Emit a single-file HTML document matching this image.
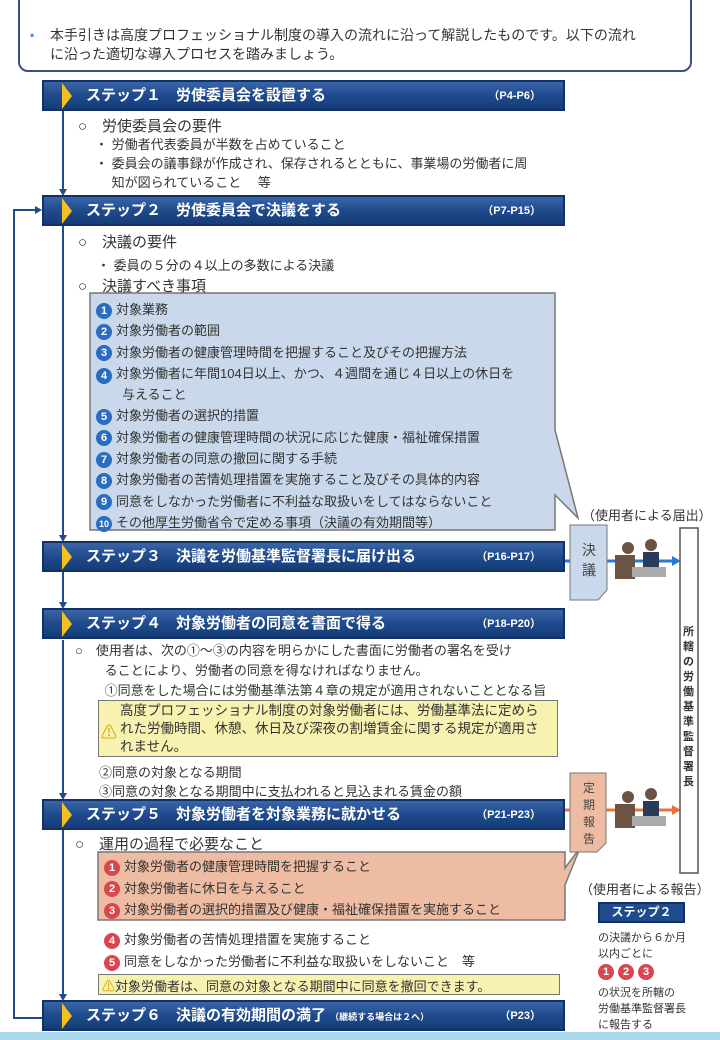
<!DOCTYPE html>
<html><head><meta charset="utf-8"><style>
*{margin:0;padding:0;box-sizing:border-box}
body{width:720px;height:1040px;position:relative;background:#fff;font-family:"Liberation Sans","Noto Sans CJK JP",sans-serif;color:#333;overflow:hidden}
.a{position:absolute;white-space:nowrap}
.bar{position:absolute;left:42px;width:523px;height:31px;background:linear-gradient(#3a65a8,#1f4a8c 50%,#163d78);border:2px solid #123266;color:#fff;font-weight:bold;font-size:15px;line-height:27px;padding-left:42px}
.bar:before{content:"";position:absolute;left:18px;top:1px;border-left:10px solid #f3c020;border-top:13px solid transparent;border-bottom:13px solid transparent}
.bar span{position:absolute;right:22px;font-size:11px;top:1px}
.t15{font-size:15px}.t12{font-size:13px}
.num{display:inline-block;width:16px;height:16px;border-radius:50%;color:#fff;font-size:11px;font-weight:bold;text-align:center;line-height:16px;margin-right:4px;vertical-align:middle}
.b{background:#2a6cc0}.r{background:#d8464f}
.vl{position:absolute;background:#1f4a8c;width:2px}
.ar{position:absolute;border-top:7px solid #1f4a8c;border-left:4px solid transparent;border-right:4px solid transparent}
</style></head><body>
<div style="position:absolute;left:18px;top:-10px;width:674px;height:82px;border:2px solid #3a4f80;border-radius:10px"></div>
<div class="a" style="left:30px;top:28px;font-size:12px;color:#4a8ad0">▪</div>
<div class="a" style="left:50px;top:26px;line-height:19px;font-size:14px">本手引きは高度プロフェッショナル制度の導入の流れに沿って解説したものです。以下の流れ<br>に沿った適切な導入プロセスを踏みましょう。</div>

<div class="vl" style="left:62px;top:110px;height:80px"></div><div class="ar" style="left:59px;top:189px"></div>
<div class="vl" style="left:62px;top:226px;height:310px"></div><div class="ar" style="left:59px;top:535px"></div>
<div class="vl" style="left:62px;top:572px;height:31px"></div><div class="ar" style="left:59px;top:602px"></div>
<div class="vl" style="left:62px;top:640px;height:154px"></div><div class="ar" style="left:59px;top:793px"></div>
<div class="vl" style="left:62px;top:830px;height:165px"></div><div class="ar" style="left:59px;top:994px"></div>
<div class="vl" style="left:13px;top:210px;height:809px"></div>
<div style="position:absolute;left:13px;top:209px;width:26px;height:2px;background:#1f4a8c"></div>
<div style="position:absolute;left:35px;top:206px;border-left:7px solid #1f4a8c;border-top:4px solid transparent;border-bottom:4px solid transparent"></div>
<div style="position:absolute;left:13px;top:1017px;width:30px;height:2px;background:#1f4a8c"></div>

<div class="bar" style="top:80px">ステップ１　労使委員会を設置する<span>（P4-P6）</span></div>
<div class="a t15" style="left:78px;top:115px">○　労使委員会の要件</div>
<div class="a t12" style="left:95px;top:135px;line-height:19px">・ 労働者代表委員が半数を占めていること<br>・ 委員会の議事録が作成され、保存されるとともに、事業場の労働者に周<br>　 知が図られていること　 等</div>

<div class="bar" style="top:195px">ステップ２　労使委員会で決議をする<span>（P7-P15）</span></div>
<div class="a t15" style="left:78px;top:231px">○　決議の要件</div>
<div class="a t12" style="left:97px;top:255px">・ 委員の５分の４以上の多数による決議</div>
<div class="a t15" style="left:78px;top:275px">○　決議すべき事項</div>
<svg style="position:absolute;left:0;top:0" width="720" height="1040">
<polygon points="90,293 555,293 555,430 578,518 555,495 555,530 90,530" fill="#c9d8ea" stroke="#777" stroke-width="1.5"/>
<polygon points="98,852 565,852 565,868 580,848 565,885 565,920 98,920" fill="#eebca3" stroke="#777" stroke-width="1.5"/>
<line x1="565" y1="561" x2="675" y2="561" stroke="#2a7ad0" stroke-width="3"/><polygon points="672,556 681,561 672,566" fill="#2a7ad0"/>
<line x1="565" y1="810" x2="675" y2="810" stroke="#e8743a" stroke-width="3"/><polygon points="672,805 681,810 672,815" fill="#e8743a"/>
<polygon points="570,525 607,525 607,590 598,600 570,600" fill="#c9d8ea" stroke="#777"/>
<polygon points="570,773 606,773 606,843 597,852 570,852" fill="#eebca3" stroke="#777"/>
<rect x="680" y="528" width="18" height="345" fill="#fff" stroke="#555" stroke-width="1.5"/>
<g fill="#6b5444"><circle cx="628" cy="548" r="6"/><rect x="615" y="555" width="20" height="24"/><circle cx="651" cy="545" r="6"/><rect x="643" y="552" width="16" height="18" fill="#2a3a5a"/><rect x="632" y="567" width="34" height="10" fill="#aaa"/></g>
<g fill="#6b5444"><circle cx="628" cy="797" r="6"/><rect x="615" y="804" width="20" height="24"/><circle cx="651" cy="794" r="6"/><rect x="643" y="801" width="16" height="18" fill="#2a3a5a"/><rect x="632" y="816" width="34" height="10" fill="#aaa"/></g>
</svg>
<div class="a t12" style="left:96px;top:299px;line-height:21.3px">
<span class="num b">1</span>対象業務<br><span class="num b">2</span>対象労働者の範囲<br><span class="num b">3</span>対象労働者の健康管理時間を把握すること及びその把握方法<br>
<span class="num b" style="margin-top:3px">4</span>対象労働者に年間104日以上、かつ、４週間を通じ４日以上の休日を<br>　　与えること<br>
<span class="num b">5</span>対象労働者の選択的措置<br><span class="num b">6</span>対象労働者の健康管理時間の状況に応じた健康・福祉確保措置<br><span class="num b">7</span>対象労働者の同意の撤回に関する手続<br><span class="num b">8</span>対象労働者の苦情処理措置を実施すること及びその具体的内容<br><span class="num b">9</span>同意をしなかった労働者に不利益な取扱いをしてはならないこと<br><span class="num b" style="font-size:9px">10</span>その他厚生労働省令で定める事項（決議の有効期間等）</div>

<div class="a t12" style="left:582px;top:505px">（使用者による届出）</div>
<div class="a" style="left:582px;top:540px;font-size:14px;line-height:20px;color:#444">決<br>議</div>
<div class="a" style="left:583px;top:780px;font-size:12px;line-height:17px;color:#444">定<br>期<br>報<br>告</div>
<div class="a" style="left:683px;top:625px;font-size:11px;font-weight:bold;line-height:15px">所<br>轄<br>の<br>労<br>働<br>基<br>準<br>監<br>督<br>署<br>長</div>

<div class="bar" style="top:541px">ステップ３　決議を労働基準監督署長に届け出る<span>（P16-P17）</span></div>

<div class="bar" style="top:608px">ステップ４　対象労働者の同意を書面で得る<span>（P18-P20）</span></div>
<div class="a t12" style="left:75px;top:641px;line-height:20px">○　使用者は、次の①～③の内容を明らかにした書面に労働者の署名を受け<br>　　 ることにより、労働者の同意を得なければなりません。<br>　　 ①同意をした場合には労働基準法第４章の規定が適用されないこととなる旨</div>
<div style="position:absolute;left:98px;top:700px;width:460px;height:57px;background:#f7f2b0;border:1.5px solid #777"></div>
<div class="a" style="left:101px;top:719px;font-size:16px;color:#d8a000">⚠</div>
<div class="a" style="left:120px;top:702px;line-height:18px;font-size:13.5px">高度プロフェッショナル制度の対象労働者には、労働基準法に定めら<br>れた労働時間、休憩、休日及び深夜の割増賃金に関する規定が適用さ<br>れません。</div>
<div class="a t12" style="left:99px;top:763px;line-height:19px">②同意の対象となる期間<br>③同意の対象となる期間中に支払われると見込まれる賃金の額</div>

<div class="bar" style="top:799px">ステップ５　対象労働者を対象業務に就かせる<span>（P21-P23）</span></div>
<div class="a t15" style="left:75px;top:833px">○　運用の過程で必要なこと</div>
<div class="a t12" style="left:104px;top:856px;line-height:21.5px"><span class="num r">1</span>対象労働者の健康管理時間を把握すること<br><span class="num r">2</span>対象労働者に休日を与えること<br><span class="num r">3</span>対象労働者の選択的措置及び健康・福祉確保措置を実施すること</div>
<div class="a t12" style="left:104px;top:929px;line-height:22px"><span class="num r">4</span>対象労働者の苦情処理措置を実施すること<br><span class="num r">5</span>同意をしなかった労働者に不利益な取扱いをしないこと　等</div>
<div style="position:absolute;left:98px;top:974px;width:462px;height:21px;background:#f7f2b0;border:1.5px solid #777"></div>
<div class="a t12" style="left:102px;top:976px"><span style="color:#d8a000">⚠</span>対象労働者は、同意の対象となる期間中に同意を撤回できます。</div>

<div class="bar" style="top:1000px">ステップ６　決議の有効期間の満了 <span style="position:static;font-size:9px">（継続する場合は２へ）</span><span>（P23）</span></div>

<div class="a t12" style="left:580px;top:879px">（使用者による報告）</div>
<div style="position:absolute;left:598px;top:902px;width:87px;height:21px;background:#1f4a8c;border:2px solid #123266;color:#fff;font-size:12px;font-weight:bold;text-align:center;line-height:17px">ステップ２</div>
<div class="a" style="left:598px;top:930px;font-size:11px;line-height:16px">の決議から６か月<br>以内ごとに</div>
<div class="a" style="left:598px;top:963px"><span class="num r">1</span><span class="num r">2</span><span class="num r">3</span></div>
<div class="a" style="left:598px;top:985px;font-size:11px;line-height:16px">の状況を所轄の<br>労働基準監督署長<br>に報告する</div>
<div style="position:absolute;left:0;top:1032px;width:720px;height:8px;background:#a9d9ec"></div>
</body></html>
